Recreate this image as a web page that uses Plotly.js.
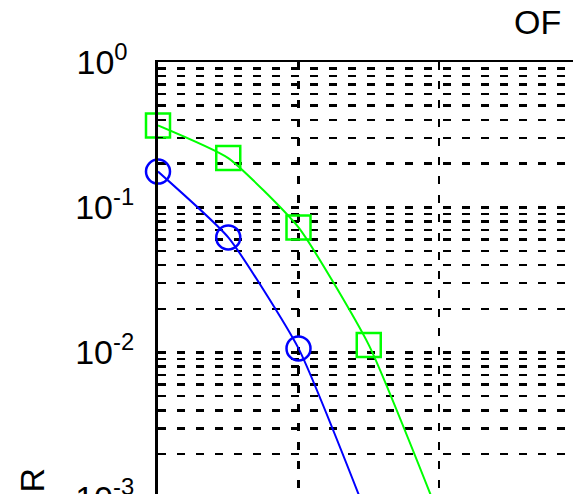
<!DOCTYPE html>
<html>
<head>
<meta charset="utf-8">
<script src="https://cdn.plot.ly/plotly-3.0.1.min.js"></script>
<style>
html,body{margin:0;padding:0;background:#fff;overflow:hidden;}
#wrap{width:587px;height:494px;overflow:hidden;position:relative;}
#chart{width:587px;height:700px;}
</style>
</head>
<body>
<div id="wrap"><div id="chart"></div></div>
<script>
// Data (x in arbitrary units, markers every half grid step)
const xBlue = [0, 1, 2, 3];
const berBlue = [0.176, 0.0620, 0.01067, 0.0007];
const xGreen = [0, 1, 2, 3, 4];
const berGreen = [0.366, 0.218, 0.0726, 0.01128, 0.00075];

// Y tick labels (decades)
const tickVals = [1e-4, 1e-3, 1e-2, 1e-1, 1];
const tickText = ['10<sup>-4</sup>', '10<sup>-3</sup>', '10<sup>-2</sup>', '10<sup>-1</sup>', '10<sup>0\u00a0</sup>'];

const W = 587, H = 700, L = 158, R = 14, T = 62;
const plotH = 4 * 145.3;
const B = H - T - plotH;
const plotW = W - L - R;

const font = 'Liberation Sans, Arial, Helvetica, sans-serif';

const traces = [
  {
    x: xBlue, y: berBlue, type: 'scatter', mode: 'lines+markers',
    line: {color: '#0000ff', width: 2, shape: 'spline', smoothing: 0.5},
    marker: {symbol: 'circle-open', size: 24, color: '#0000ff', line: {width: 2.5, color: '#0000ff'}},
    cliponaxis: false, showlegend: false
  },
  {
    x: xGreen, y: berGreen, type: 'scatter', mode: 'lines+markers',
    line: {color: '#00ff00', width: 2, shape: 'spline', smoothing: 0.5},
    marker: {symbol: 'square-open', size: 24, color: '#00ff00', line: {width: 2.5, color: '#00ff00'}},
    cliponaxis: false, showlegend: false
  }
];

const layout = {
  width: W, height: H,
  margin: {l: L, r: R, t: T, b: B, pad: 0},
  paper_bgcolor: '#ffffff', plot_bgcolor: '#ffffff',
  font: {family: font, color: '#000', size: 33},
  title: {
    text: 'OF', font: {family: font, size: 34, color: '#000'},
    xref: 'container', yref: 'container',
    x: 514 / W, xanchor: 'left', y: 1 - 22 / H, yanchor: 'middle'
  },
  xaxis: {
    range: [0, plotW / 70.25], dtick: 2, tick0: 0,
    showgrid: true, gridcolor: '#000', gridwidth: 2.5, griddash: '8px,11px',
    zeroline: false, showline: true, mirror: true, linecolor: '#000', linewidth: 2.5,
    ticks: 'inside', ticklen: 5, tickcolor: '#000', showticklabels: false
  },
  yaxis: {
    type: 'log', range: [-4, 0],
    tickmode: 'array', tickvals: tickVals, ticktext: tickText,
    showgrid: true, gridcolor: '#000', gridwidth: 2.5, griddash: '8px,11px',
    zeroline: false, showline: true, mirror: false, linecolor: '#000', linewidth: 3,
    ticks: 'inside', ticklen: 5, tickcolor: '#000',
    tickfont: {family: font, size: 34, color: '#000'},
    ticklabelstandoff: 14,
    minor: {
      dtick: 'D1', showgrid: true, gridcolor: '#000', gridwidth: 2.5, griddash: '8px,11px',
      ticks: 'inside', ticklen: 5, tickcolor: '#000'
    }
  },
  annotations: [
    {
      text: 'BER', textangle: -90, showarrow: false,
      xref: 'paper', yref: 'paper',
      x: (32 - L) / plotW, xanchor: 'center',
      y: 1 - (466 - T) / plotH, yanchor: 'top',
      font: {family: font, size: 34, color: '#000'}
    }
  ]
};

Plotly.newPlot('chart', traces, layout, {displayModeBar: false, staticPlot: true});
</script>
</body>
</html>
